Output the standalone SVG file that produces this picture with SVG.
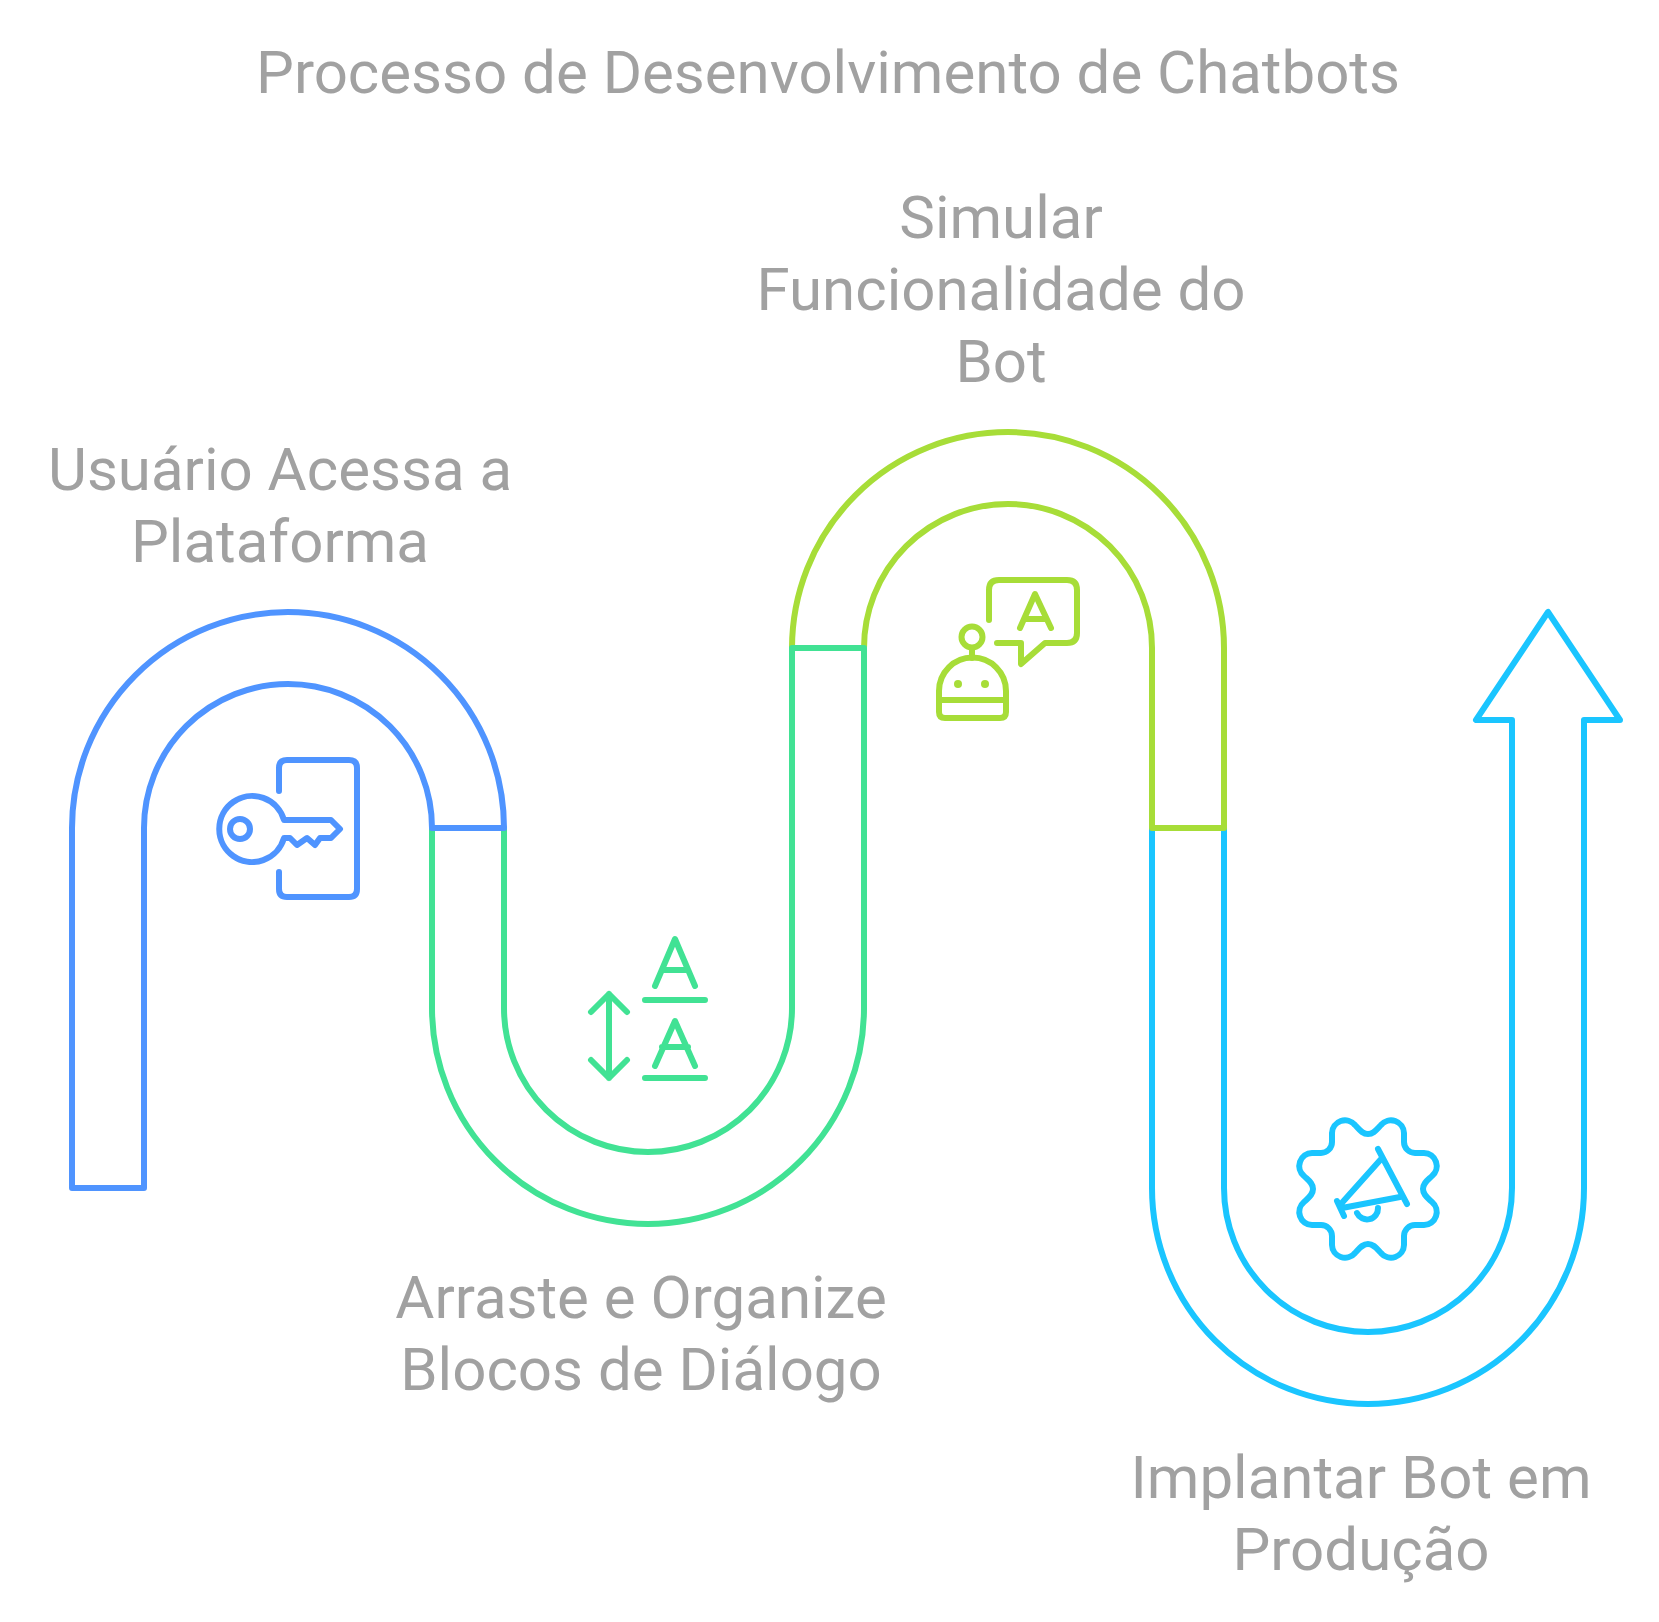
<svg xmlns="http://www.w3.org/2000/svg" width="1659" height="1622" viewBox="0 0 1659 1622">
<style>
.s{fill:#fff;stroke-width:6;stroke-linejoin:round;stroke-linecap:round}
.i{fill:none;stroke-width:6;stroke-linejoin:round;stroke-linecap:round}
.t{font-family:Roboto,"Liberation Sans",sans-serif;font-size:60px;fill:#a1a1a1;text-anchor:middle}
.blue{stroke:#4f94ff}.green{stroke:#41e294}.lime{stroke:#a7dd38}.cyan{stroke:#1ac5ff}
</style>
<rect width="1659" height="1622" fill="#fff"/>
<text id="title" class="t" x="828" y="93">Processo de Desenvolvimento de Chatbots</text>
<g id="connectors">
<path id="seg4" class="s cyan" d="M1152 828V1188A216 216 0 0 0 1584 1188V720H1620L1548 612L1476 720H1512V1188A144 144 0 0 1 1224 1188V828Z"/>
<path id="seg3" class="s lime" d="M792 648A216 216 0 0 1 1224 648V828H1152V648A144 144 0 0 0 864 648Z"/>
<path id="seg2" class="s green" d="M432 828V1008A216 216 0 0 0 864 1008V648H792V1008A144 144 0 0 1 504 1008V828Z"/>
<path id="seg1" class="s blue" d="M72 1188V828A216 216 0 0 1 504 828H432A144 144 0 0 0 144 828V1188Z"/>
</g>
<g id="node1">
<g class="i blue">
<path d="M279 791V768Q279 760 287 760H349Q357 760 357 768V889Q357 897 349 897H287Q279 897 279 889V872"/>
<path d="M284 820H331L340 829L331 838H320L315 845L307 838L297 845L290 838H284A33 33 0 1 1 284 820Z"/>
<circle cx="240" cy="829" r="10"/>
</g>
<text class="t"><tspan x="280" y="490">Usuário Acessa a</tspan><tspan x="280" y="562">Plataforma</tspan></text>
</g>
<g id="node2">
<g class="i green">
<path d="M655 986L675 939L695 986M662 970H688M645 1000H705"/>
<path d="M655 1066L675 1021L695 1066M662 1047H688M645 1078H705"/>
<path d="M609 994V1078M591 1012L609 994L627 1012M591 1060L609 1078L627 1060"/>
</g>
<text class="t"><tspan x="641" y="1318">Arraste e Organize</tspan><tspan x="641" y="1390">Blocos de Diálogo</tspan></text>
</g>
<g id="node3">
<g class="i lime">
<path d="M989 620V590Q989 580 999 580H1067Q1077 580 1077 590V633Q1077 643 1067 643H1045L1021 664V643H997"/>
<path d="M1020 628L1035 594L1051 628M1025 619H1046"/>
<circle cx="972" cy="637" r="10.500"/>
<path d="M972 648V658"/>
<path d="M939 691A33.500 33.500 0 0 1 1006 691V712Q1006 718 1000 718H945Q939 718 939 712ZM939 700H1006"/>
</g>
<circle cx="958" cy="684" r="4" fill="#a7dd38"/>
<circle cx="985" cy="684" r="4" fill="#a7dd38"/>
<text class="t"><tspan x="1001" y="238">Simular</tspan><tspan x="1001" y="310">Funcionalidade do</tspan><tspan x="1001" y="382">Bot</tspan></text>
</g>
<g id="node4">
<g class="i cyan">
<path transform="translate(1368 1189)" d="M0 -55C6 -55 9 -60 13 -64A13 13 0 0 1 36 -56V-47C36 -41 41 -36 47 -36H56A13 13 0 0 1 64 -13C60 -9 55 -6 55 0C55 6 60 9 64 13A13 13 0 0 1 56 36H47C41 36 36 41 36 47V56A13 13 0 0 1 13 64C9 60 6 55 0 55C-6 55 -9 60 -13 64A13 13 0 0 1 -36 56V47C-36 41 -41 36 -47 36H-56A13 13 0 0 1 -64 13C-60 9 -55 6 -55 0C-55 -6 -60 -9 -64 -13A13 13 0 0 1 -56 -36H-47C-41 -36 -36 -41 -36 -47V-56A13 13 0 0 1 -13 -64C-9 -60 -6 -55 0 -55Z"/>
<path d="M1378 1149L1407 1204M1337 1201L1344 1216M1382 1158L1340 1205M1342 1208L1400 1197M1357 1213A11 11 0 0 0 1378 1208"/>
</g>
<text class="t"><tspan x="1361" y="1498">Implantar Bot em</tspan><tspan x="1361" y="1570">Produção</tspan></text>
</g>
</svg>
